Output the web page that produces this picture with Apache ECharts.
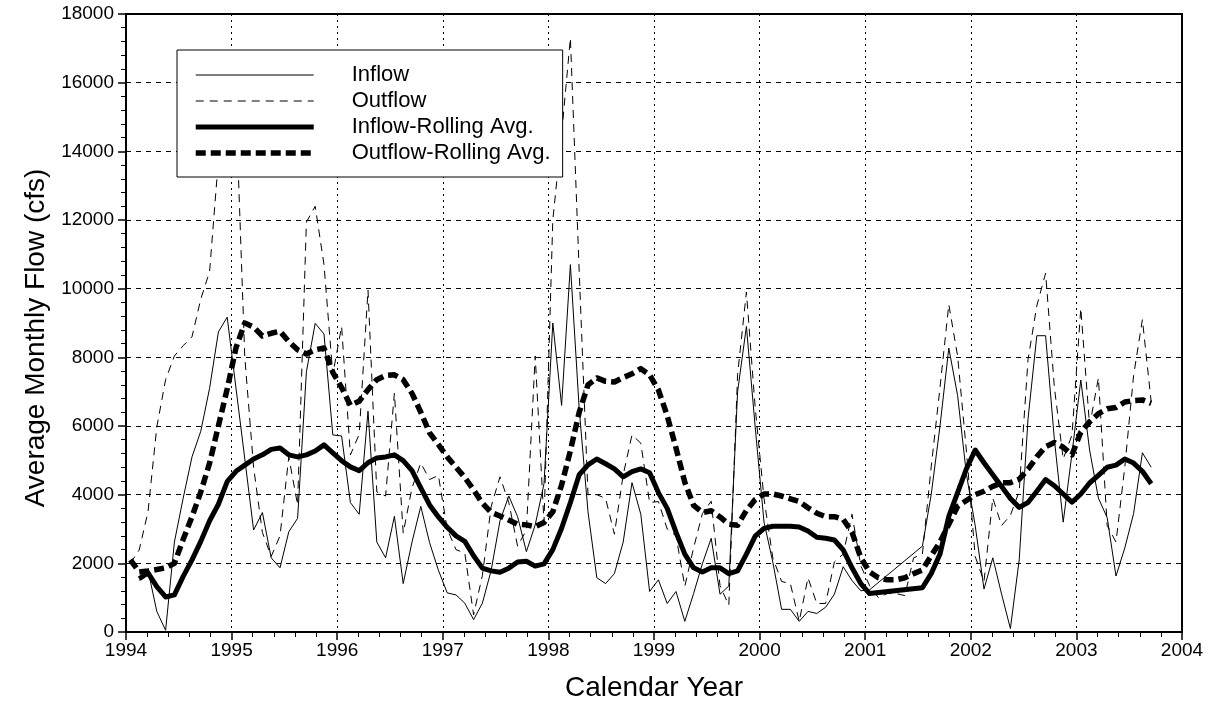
<!DOCTYPE html>
<html><head><meta charset="utf-8">
<script src="https://cdn.jsdelivr.net/npm/echarts/dist/echarts.min.js"></script>
<style>html,body{margin:0;padding:0;background:#fff}#c{width:1219px;height:709px}</style>
</head><body><div id="c"></div>
<script>
// Monthly values, index 0 = Jan 1994 ... index 116 = Sep 2003 (null = no data)
const startYear = 1994;
const seriesNames = ['Inflow', 'Outflow', 'Inflow-Rolling Avg.', 'Outflow-Rolling Avg.'];
const xTicks = [1994, 2004, 1];
const yTicks = [0, 18000, 2000];

const inflow = [
  null,1500,1800,600,50,2620,3900,5100,5850,7100,8740,9170,
  7100,5040,2970,3480,2160,1870,2920,3310,7580,8990,8680,5740,
  5710,3770,3430,6430,2620,2160,3370,1410,2620,3660,2600,1800,
  1140,1080,840,360,840,1800,3240,3960,3360,2340,3120,4320,
  9000,6600,10700,6500,3500,1580,1410,1700,2620,4350,3430,1180,
  1520,830,1180,310,1120,1990,2730,1100,1340,7000,8900,5970,
  3200,2040,660,660,310,600,540,720,1100,1900,1500,1200,
  1230,null,null,null,null,null,2500,4000,6000,8270,6890,4600,
  3100,1250,2160,1100,100,2100,6200,8630,8630,5600,3200,5200,
  7340,5300,3900,3330,1630,2450,3450,5220,4800
];
const outflow = [
  2000,2390,3500,5970,7350,8040,8340,8600,9700,10500,13750,16500,
  15300,8000,4800,2900,2200,2800,5100,3700,11940,12400,10700,7500,
  8900,5160,5760,9960,4080,3960,6960,2880,4200,4920,4440,4560,
  3000,2400,2300,500,1650,3660,4520,3770,2500,2970,8040,3200,
  12000,14500,17300,10500,4000,4000,3890,2850,4580,5740,5500,3770,
  3800,3000,2800,1330,2450,3450,3810,1350,780,7500,9900,6540,
  3890,2160,1470,1410,310,1580,830,830,2040,2270,3430,1930,
  1350,1000,1120,1120,1060,2160,2270,4810,7120,9540,8040,5270,
  2200,1470,3900,3100,3400,4100,7930,9500,10450,7120,5040,5740,
  9430,6000,7400,3100,2620,4810,7470,9100,6700
];
const inflowAvg = [
  null,1550,1720,1320,1020,1080,1620,2100,2640,3240,3720,4380,
  4680,4860,5040,5160,5320,5360,5160,5100,5160,5270,5450,5220,
  4990,4810,4700,4930,5070,5100,5160,4990,4700,4200,3700,3350,
  3050,2800,2640,2220,1860,1780,1740,1860,2040,2060,1920,1985,
  2400,3020,3770,4580,4870,5040,4900,4750,4520,4670,4750,4640,
  4060,3600,2910,2270,1870,1750,1870,1870,1700,1780,2270,2790,
  3020,3080,3080,3080,3060,2940,2760,2730,2680,2390,1870,1410,
  1120,null,null,null,null,null,1290,1700,2270,3370,4060,4750,
  5300,4930,4580,4240,3890,3630,3770,4100,4440,4260,4020,3780,
  4020,4340,4560,4800,4860,5040,4920,4680,4320
];
const outflowAvg = [
  2100,1750,1780,1820,1870,2000,2700,3360,4080,4920,6000,7080,
  8280,9000,8880,8620,8700,8760,8460,8220,8100,8220,8270,7560,
  7120,6600,6720,7060,7350,7470,7490,7350,6950,6400,5800,5460,
  5100,4800,4500,4140,3750,3480,3380,3260,3140,3120,3070,3190,
  3500,4280,5280,6400,7200,7400,7300,7280,7410,7520,7670,7490,
  7050,6300,5360,4360,3690,3480,3530,3350,3140,3110,3540,3860,
  4020,4020,3960,3880,3800,3620,3460,3360,3360,3280,2910,2160,
  1750,1580,1520,1520,1580,1700,1810,2220,2620,3140,3660,3830,
  4000,4100,4240,4350,4350,4450,4740,5100,5400,5520,5380,5160,
  5820,6120,6360,6500,6540,6700,6740,6760,6660
];

const toPts = arr => arr.map((v, i) => v == null ? null : [startYear + (i + 0.5) / 12, v]).filter(p => p);
const FONT = 'Liberation Sans, Arial, Helvetica, sans-serif';
const chart = echarts.init(document.getElementById('c'), null, {renderer: 'canvas'});

const styles = [
  {width: 1, type: 'solid', z: 3},
  {width: 1, type: [8, 6], z: 3},
  {width: 5, type: 'solid', z: 4},
  {width: 5.5, type: [10, 5], z: 5}
];
const dataSets = [inflow, outflow, inflowAvg, outflowAvg];

chart.setOption({
  animation: false,
  backgroundColor: '#fff',
  textStyle: {fontFamily: FONT, color: '#000'},
  grid: {left: 126, right: 37, top: 14, bottom: 77, show: true, borderColor: '#000', borderWidth: 2, backgroundColor: 'transparent'},
  legend: {
    data: seriesNames.map((n, i) => ({name: n, lineStyle: {width: styles[i].width, type: styles[i].type, color: '#000', cap: 'butt'}})),
    orient: 'vertical', left: 177, top: 50,
    itemWidth: 118, itemHeight: 20, itemGap: 4,
    padding: [14, 12, 13, 16],
    backgroundColor: '#fff', borderColor: '#000', borderWidth: 1,
    selectedMode: false, z: 20,
    itemStyle: {opacity: 0},
    textStyle: {fontSize: 22, lineHeight: 20, fontFamily: FONT, color: '#000', padding: [0, 0, 0, 33]}
  },
  xAxis: {
    type: 'value', min: xTicks[0], max: xTicks[1], interval: xTicks[2],
    name: 'Calendar Year', nameLocation: 'middle', nameGap: 42,
    nameTextStyle: {fontSize: 28, fontFamily: FONT, color: '#000'},
    axisLine: {show: true, onZero: false, lineStyle: {color: '#000', width: 2}},
    axisTick: {show: true, length: 8, lineStyle: {color: '#000', width: 1.5}},
    minorTick: {show: true, splitNumber: 5, length: 5, lineStyle: {color: '#000', width: 1}},
    splitLine: {show: true, lineStyle: {color: '#000', width: 1, type: [2, 4]}},
    axisLabel: {formatter: v => String(v), fontSize: 19, fontFamily: FONT, color: '#000', margin: 9}
  },
  yAxis: {
    type: 'value', min: yTicks[0], max: yTicks[1], interval: yTicks[2],
    name: 'Average Monthly Flow (cfs)', nameLocation: 'middle', nameGap: 72,
    nameTextStyle: {fontSize: 28, fontFamily: FONT, color: '#000', padding: [0, 30, 0, 0]},
    axisLine: {show: true, lineStyle: {color: '#000', width: 2}},
    axisTick: {show: true, length: 8, lineStyle: {color: '#000', width: 1.5}},
    minorTick: {show: true, splitNumber: 5, length: 5, lineStyle: {color: '#000', width: 1}},
    splitLine: {show: true, lineStyle: {color: '#000', width: 1, type: [5, 5]}},
    axisLabel: {formatter: v => String(v), fontSize: 19, fontFamily: FONT, color: '#000', margin: 12}
  },
  series: seriesNames.map((n, i) => ({
    name: n, type: 'line', data: toPts(dataSets[i]), symbol: 'none', showSymbol: false,
    connectNulls: true, z: styles[i].z,
    lineStyle: {color: '#000', width: styles[i].width, type: styles[i].type, cap: 'butt', join: 'round'},
    itemStyle: {color: '#000'},
    emphasis: {disabled: true}
  }))
});
</script></body></html>
